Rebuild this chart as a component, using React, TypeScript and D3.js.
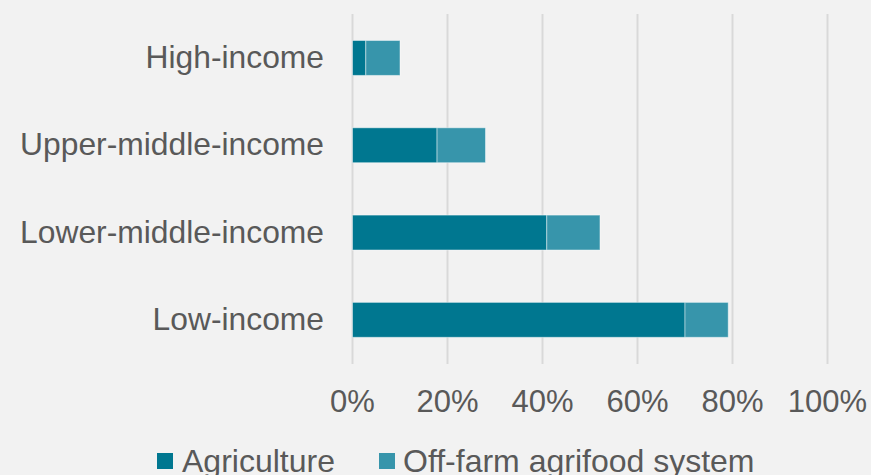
import React from "react";
import * as d3 from "d3";

const categories = ["High-income", "Upper-middle-income", "Lower-middle-income", "Low-income"];
const agriculture = [0.028, 0.178, 0.409, 0.70];
const offFarm = [0.072, 0.102, 0.112, 0.091];
const tickValues = [0, 0.2, 0.4, 0.6, 0.8, 1.0];
const seriesNames = ["Agriculture", "Off-farm agrifood system"];
const colors = ["#007790", "#3795ab"];

const W = 871;
const H = 475;
const FONT = "'Liberation Sans', Arial, sans-serif";
const TEXT = "#595959";

export default function App() {
  const x = d3.scaleLinear().domain([0, 1]).range([352.5, 827.5]);
  const y = d3.scaleBand<string>().domain(categories).range([14.3, 363.5]).paddingInner(0.6).paddingOuter(0.3);
  const bw = y.bandwidth();
  const fmt = d3.format(".0%");
  const legendX = [157, 379];
  const legendTextX = [182, 403];

  return (
    <div style={{ position: "absolute", left: 0, top: 0 }}>
      <svg width={W} height={H} style={{ display: "block", background: "#f2f2f2" }}>
        <rect x={0} y={0} width={W} height={H} fill="#f2f2f2" />
        {tickValues.map((t) => (
          <line key={t} x1={x(t)} x2={x(t)} y1={14} y2={364} stroke="#d9d9d9" strokeWidth={2} />
        ))}
        {categories.map((c, i) => {
          const y0 = y(c)!;
          return (
            <g key={c}>
              <rect x={x(0)} y={y0} width={x(agriculture[i]) - x(0)} height={bw} fill={colors[0]} stroke="rgba(255,255,255,0.45)" strokeWidth={1} />
              <rect x={x(agriculture[i])} y={y0} width={x(agriculture[i] + offFarm[i]) - x(agriculture[i])} height={bw} fill={colors[1]} stroke="rgba(255,255,255,0.45)" strokeWidth={1} />
              <text x={324} y={y0 + bw / 2 + 10} textAnchor="end" fontFamily={FONT} fontSize={31.8} fill={TEXT}>{c}</text>
            </g>
          );
        })}
        {tickValues.map((t) => (
          <text key={"l" + t} x={x(t)} y={412} textAnchor="middle" fontFamily={FONT} fontSize={31} fill={TEXT}>{fmt(t)}</text>
        ))}
        {seriesNames.map((s, i) => (
          <g key={s}>
            <rect x={legendX[i]} y={453} width={16} height={16} fill={colors[i]} />
            <text x={legendTextX[i]} y={472} fontFamily={FONT} fontSize={32} fill={TEXT}>{s}</text>
          </g>
        ))}
      </svg>
    </div>
  );
}
